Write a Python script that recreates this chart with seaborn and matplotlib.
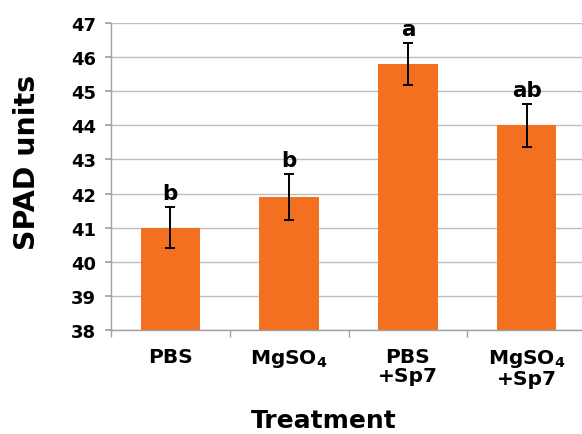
import matplotlib
matplotlib.use("Agg")
import matplotlib.pyplot as plt
import seaborn as sns
import pandas as pd
import numpy as np

treatments = ["PBS", r"MgSO$_4$", "PBS\n+Sp7", "MgSO$_4$\n+Sp7"]
spad_mean = [41.0, 41.9, 45.8, 44.0]
spad_err = [0.6, 0.67, 0.62, 0.63]
letters = ["b", "b", "a", "ab"]

sns.set_theme(style="white")
plt.rcParams["font.family"] = ["DejaVu Sans"]
plt.rcParams["font.weight"] = "bold"
plt.rcParams["text.color"] = "black"
plt.rcParams["mathtext.fontset"] = "custom"
plt.rcParams["mathtext.rm"] = "DejaVu Sans:bold"
plt.rcParams["mathtext.it"] = "DejaVu Sans:bold"
plt.rcParams["mathtext.bf"] = "DejaVu Sans:bold"
plt.rcParams["mathtext.default"] = "rm"

df = pd.DataFrame({"treatment": treatments, "spad": spad_mean})

fig = plt.figure(figsize=(5.82, 4.35), dpi=100)
ax = fig.add_axes([111 / 582, 104 / 435, 475 / 582, 307 / 435])

sns.barplot(data=df, x="treatment", y="spad", color="#F37021", width=0.5,
            saturation=1, errorbar=None, ax=ax, zorder=2, linewidth=0)
ax.errorbar(np.arange(len(spad_mean)), spad_mean, yerr=spad_err, fmt="none",
            ecolor="black", elinewidth=1.4, capsize=3.5, capthick=1.4, zorder=3)

for i, (m, e, lab) in enumerate(zip(spad_mean, spad_err, letters)):
    ax.text(i, m + e + 0.12, lab, ha="center", va="bottom",
            fontsize=15.5, fontweight="bold", color="black")

ax.set_ylim(38, 47)
ax.set_xlim(-0.5, 3.5)
ax.set_yticks(range(38, 48))
ax.yaxis.grid(True, color="#bdbdbd", linewidth=1.0, zorder=0)
ax.set_axisbelow(True)

for s in ["top", "right"]:
    ax.spines[s].set_visible(False)
for s in ["left", "bottom"]:
    ax.spines[s].set_color("#a0a0a0")
    ax.spines[s].set_linewidth(1.0)

ax.tick_params(axis="y", which="major", length=4, color="#a0a0a0",
               labelsize=13, pad=7, left=True, labelcolor="black")
ax.tick_params(axis="x", which="major", length=0, labelsize=14.5, pad=12,
               labelcolor="black")
ax.set_xticks(np.arange(-0.5, 4.0, 1.0), minor=True)
ax.tick_params(axis="x", which="minor", length=5, color="#a0a0a0", bottom=True)
for t in ax.get_yticklabels() + ax.get_xticklabels():
    t.set_fontweight("bold")
for t in ax.get_xticklabels():
    t.set_linespacing(1.0)

ax.set_xlabel("")
ax.set_ylabel("")
fig.text(324 / 582, 1 - 421 / 435, "Treatment", ha="center", va="center",
         fontsize=18, fontweight="bold", color="black")
fig.text(27 / 582, 1 - 162 / 435, "SPAD units", ha="center", va="center",
         rotation=90, fontsize=20.5, fontweight="bold", color="black")

fig.savefig("out.png", dpi=100)
